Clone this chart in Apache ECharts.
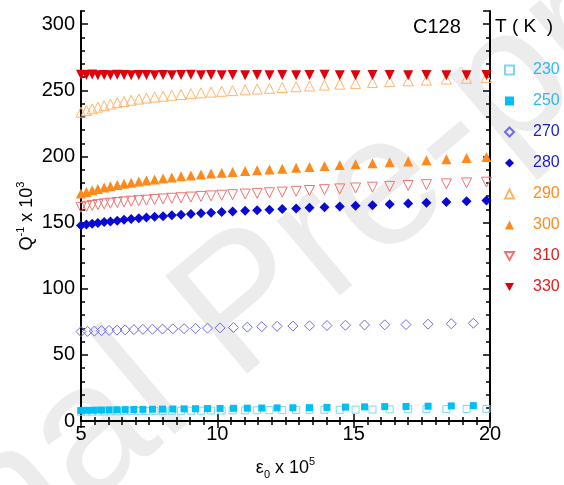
<!DOCTYPE html>
<html>
<head>
<meta charset="utf-8">
<script src="https://cdn.jsdelivr.net/npm/echarts@6/dist/echarts.min.js"></script>
<style>
  html, body { margin: 0; padding: 0; background: #fff; }
  #chart { width: 564px; height: 485px; }
</style>
</head>
<body>
<div id="chart"></div>
<script>
// strain amplitude values (x 10^5)
var xs = [5.00, 5.20, 5.41, 5.62, 5.85, 6.08, 6.33, 6.58, 6.84, 7.12, 7.40, 7.70, 8.01, 8.33, 8.67, 9.03, 9.40, 9.77,
  10.16, 10.56, 11.02, 11.46, 11.91, 12.38, 12.89, 13.38, 13.93, 14.49, 15.07, 15.69, 16.32, 17.00, 17.67, 18.40, 19.14, 19.87]
var xsB = [5.00, 5.24, 5.49, 5.75, 6.03, 6.32, 6.62, 6.94, 7.27, 7.62, 7.99, 8.37, 8.78, 9.20, 9.64, 10.10, 10.59, 11.10,
  11.63, 12.19, 12.77, 13.38, 14.02, 14.70, 15.40, 16.14, 16.92, 17.73, 18.58, 19.39]

// Q^-1 x 10^3 per temperature
var q230 = [7.0, 7.1, 7.1, 7.2, 7.2, 7.3, 7.3, 7.4, 7.4, 7.5, 7.5, 7.6, 7.6, 7.7, 7.7, 7.8, 7.8, 7.9, 7.9, 8.0, 8.0, 8.1,
  8.2, 8.2, 8.3, 8.4, 8.5, 8.5, 8.6, 8.7, 8.8, 8.9, 9.0, 9.0, 9.1, 9.2]
var q250 = [8.0, 8.1, 8.2, 8.3, 8.4, 8.5, 8.6, 8.7, 8.8, 8.9, 9.0, 9.1, 9.2, 9.3, 9.4, 9.5, 9.6, 9.7, 9.8, 9.9, 10.0,
  10.1, 10.3, 10.5, 10.7, 10.9, 11.0, 11.2, 11.4, 11.6]
var q270 = [67.6, 67.8, 68.0, 68.3, 68.5, 68.7, 68.9, 69.1, 69.3, 69.4, 69.5, 69.7, 69.8, 70.0, 70.2, 70.4, 70.7, 71.0,
  71.3, 71.6, 71.8, 72.0, 72.2, 72.4, 72.6, 72.7, 72.9, 73.2, 73.5, 73.9]
var q280 = [147.8, 148.5, 149.2, 149.8, 150.4, 150.9, 151.5, 152.1, 152.7, 153.3, 153.9, 154.4, 154.9, 155.5, 156.0,
  156.5, 157.0, 157.5, 158.0, 158.4, 158.9, 159.3, 159.8, 160.2, 160.7, 161.2, 161.7, 162.2, 162.7, 163.2, 163.8,
  164.4, 165.0, 165.6, 166.2, 166.8]
var q290 = [233.5, 234.8, 236.0, 237.3, 238.4, 239.6, 240.7, 241.6, 242.5, 243.4, 244.2, 244.9, 245.6, 246.3, 246.9,
  247.5, 248.1, 248.7, 249.3, 249.8, 250.4, 251.0, 251.5, 252.1, 252.7, 253.3, 254.0, 254.7, 255.3, 255.9, 256.6,
  257.2, 257.8, 258.5, 259.1, 259.8]
var q300 = [172.0, 173.2, 174.4, 175.5, 176.5, 177.5, 178.5, 179.4, 180.2, 181.0, 181.8, 182.6, 183.4, 184.2, 185.0,
  185.7, 186.4, 187.1, 187.7, 188.3, 189.0, 189.6, 190.2, 190.8, 191.5, 192.1, 192.8, 193.5, 194.2, 194.9, 195.6,
  196.3, 197.1, 197.9, 198.8, 199.6]
var q310 = [161.5, 162.3, 163.0, 163.6, 164.2, 164.7, 165.2, 165.7, 166.2, 166.6, 167.0, 167.5, 167.9, 168.4, 168.8,
  169.3, 169.8, 170.2, 170.7, 171.1, 171.6, 172.1, 172.6, 173.1, 173.7, 174.3, 174.9, 175.5, 176.2, 176.8, 177.4,
  178.1, 178.7, 179.3, 180.0, 180.6]
var q330 = [261.8, 261.6, 261.9, 261.5, 261.7, 261.4, 261.8, 261.6, 261.5, 261.7, 261.6, 261.4, 261.7, 261.5, 261.6,
  261.8, 261.4, 261.6, 261.5, 261.7, 261.5, 261.6, 261.4, 261.7, 261.5, 261.6, 261.8, 261.5, 261.4, 261.6, 261.7,
  261.5, 261.6, 261.4, 261.5, 261.6]

var FONT = 'Liberation Sans, Arial, sans-serif'
var DOWN = 'path://M0,0 L10,0 L5,9 Z'

function pairs(x, y) {
  return y.map(function (v, i) { return [x[i], v] })
}

// name, x, y, symbol, size, rotate, colour, filled, legend text colour
var seriesDefs = [
  ['230', xs, q230, 'rect', 7, 0, '#7ad8f5', false, '#2fb8ea'],
  ['250', xsB, q250, 'rect', 7, 0, '#00bff3', true, '#2fb8ea'],
  ['270', xsB, q270, 'diamond', 10, 0, '#6d6de6', false, '#1c1cc8'],
  ['280', xs, q280, 'diamond', 10, 0, '#0a0ad2', true, '#1c1cc8'],
  ['290', xs, q290, 'triangle', 10, 0, '#ffb46a', false, '#ff8a1c'],
  ['300', xs, q300, 'triangle', 10, 0, '#ff8a1c', true, '#ff8a1c'],
  ['310', xs, q310, 'triangle', 10, 180, '#f07272', false, '#e01c1c'],
  ['330', xs, q330, 'triangle', 10, 180, '#e0000c', true, '#e01c1c']
]

var series = seriesDefs.map(function (d) {
  return {
    name: d[0],
    type: 'scatter',
    data: pairs(d[1], d[2]),
    symbol: d[3],
    symbolSize: d[4],
    symbolRotate: d[5],
    itemStyle: d[7]
      ? { color: d[6], opacity: 1 }
      : { color: 'rgba(255,255,255,0)', borderColor: d[6], borderWidth: 1, opacity: 1 }
  }
})

var legendData = seriesDefs.map(function (d) {
  var item = { name: d[0], textStyle: { color: d[8] } }
  if (d[5] === 180) item.icon = DOWN
  return item
})

var lineStyle = { color: '#000', width: 2 }

var chart = echarts.init(document.getElementById('chart'))
chart.setOption({
  animation: false,
  backgroundColor: '#fff',
  grid: { left: 81, right: 74, top: 11, bottom: 64 },
  graphic: [
    {
      type: 'text', x: -242, y: 838, rotation: 40 * Math.PI / 180, silent: true, z: -10,
      style: { text: 'Journal Pre-proof', font: '185px ' + FONT, fill: '#ececec', textVerticalAlign: 'bottom' }
    },
    { type: 'text', left: 413, top: 17, style: { text: 'C128', font: '20px ' + FONT, fill: '#000' } },
    { type: 'text', left: 495, top: 17, style: { text: 'T ( K  )', font: '19px ' + FONT, fill: '#000' } }
  ],
  legend: {
    orient: 'vertical',
    left: 499,
    top: 57,
    itemWidth: 9,
    itemHeight: 9,
    itemGap: 15,
    textStyle: { fontSize: 16, fontFamily: FONT, padding: [0, 0, 0, 14] },
    data: legendData
  },
  xAxis: [
    {
      type: 'value', min: 5, max: 20, interval: 5, position: 'bottom',
      axisLine: { lineStyle: lineStyle },
      axisTick: { inside: true, length: 7, lineStyle: { width: 1.5 } },
      minorTick: { show: true, splitNumber: 10, length: 4, lineStyle: { color: '#000', width: 1.5 } },
      splitLine: { show: false },
      axisLabel: { fontSize: 20, color: '#000', fontFamily: FONT, margin: 3 },
      name: '{t|ε}{sub|0}{t| x 10}{sup|5}',
      nameLocation: 'middle',
      nameGap: 35,
      nameMoveOverlap: false,
      nameTextStyle: {
        rich: {
          t: { fontSize: 18, fontFamily: FONT, color: '#000', lineHeight: 24 },
          sup: { fontSize: 11, fontFamily: FONT, color: '#000', lineHeight: 11, verticalAlign: 'top' },
          sub: { fontSize: 11, fontFamily: FONT, color: '#000', lineHeight: 11, verticalAlign: 'bottom' }
        }
      }
    },
    {
      type: 'value', min: 5, max: 20, interval: 5, position: 'top',
      axisLine: { lineStyle: lineStyle },
      axisTick: { inside: true, length: 7, lineStyle: { width: 1.5 } },
      minorTick: { show: true, splitNumber: 10, length: 4, lineStyle: { color: '#000', width: 1.5 } },
      splitLine: { show: false },
      axisLabel: { show: false }
    }
  ],
  yAxis: [
    {
      type: 'value', min: 0, max: 310, interval: 50, position: 'left',
      axisLine: { lineStyle: lineStyle },
      axisTick: { inside: true, length: 7, lineStyle: { width: 1.5 } },
      splitLine: { show: false },
      axisLabel: { fontSize: 20, color: '#000', fontFamily: FONT, margin: 6, showMaxLabel: false },
      name: '{t|Q}{sup|-1}{t| x 10}{sup|3}',
      nameLocation: 'middle',
      nameRotate: 90,
      nameGap: 42,
      nameMoveOverlap: false,
      nameTextStyle: {
        rich: {
          t: { fontSize: 18, fontFamily: FONT, color: '#000', lineHeight: 24 },
          sup: { fontSize: 11, fontFamily: FONT, color: '#000', lineHeight: 11, verticalAlign: 'top' }
        }
      }
    },
    {
      type: 'value', min: 0, max: 310, interval: 10, position: 'left',
      axisLine: { show: false },
      axisTick: { inside: true, length: 4, lineStyle: { color: '#000', width: 1.5 } },
      splitLine: { show: false },
      axisLabel: { show: false }
    },
    {
      type: 'value', min: 0, max: 310, interval: 50, position: 'right',
      axisLine: { lineStyle: lineStyle },
      axisTick: { inside: true, length: 7, lineStyle: { width: 1.5 } },
      splitLine: { show: false },
      axisLabel: { show: false }
    },
    {
      type: 'value', min: 0, max: 310, interval: 10, position: 'right',
      axisLine: { show: false },
      axisTick: { inside: true, length: 4, lineStyle: { color: '#000', width: 1.5 } },
      splitLine: { show: false },
      axisLabel: { show: false }
    }
  ],
  series: series
})
</script>
</body>
</html>
